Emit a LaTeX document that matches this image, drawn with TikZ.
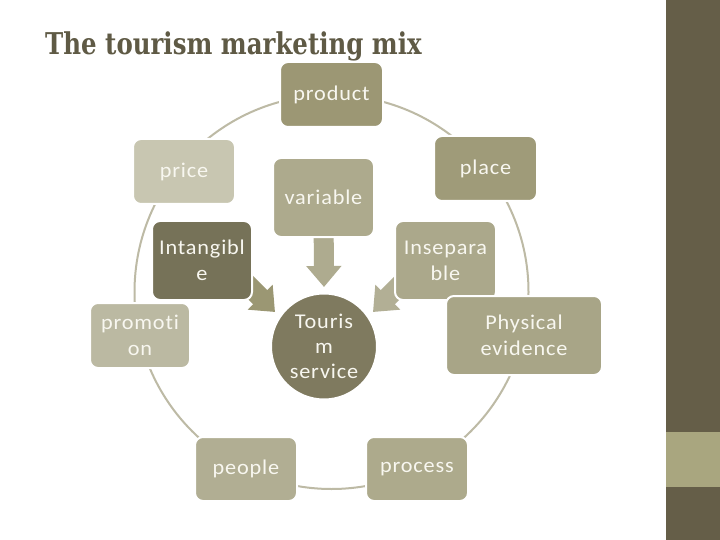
\documentclass[tikz,border=0pt]{standalone}
\usepackage{fontspec}
\usetikzlibrary{arrows.meta,calc}
\newfontfamily\boxfont{Carlito}[FakeStretch=1.06, LetterSpace=4, Ligatures=NoCommon]
\newfontfamily\titlefont{DejaVu Serif}[FakeStretch=0.815]
\definecolor{titlecol}{HTML}{5F5A45}
\definecolor{banddark}{HTML}{655E48}
\definecolor{bandlight}{HTML}{A9A67F}
\definecolor{ringcol}{HTML}{BDBAA5}
\definecolor{txtcol}{HTML}{F8F7F0}
\definecolor{cproduct}{HTML}{9C9774}
\definecolor{cprice}{HTML}{C8C6B1}
\definecolor{cplace}{HTML}{9F9B79}
\definecolor{cvariable}{HTML}{ADAA8D}
\definecolor{cintang}{HTML}{767258}
\definecolor{cinsep}{HTML}{ABA88B}
\definecolor{cpromo}{HTML}{BBB9A2}
\definecolor{csvc}{HTML}{7F7A5F}
\definecolor{cphys}{HTML}{A8A587}
\definecolor{cpeople}{HTML}{B1AE93}
\definecolor{cprocess}{HTML}{ADAA8C}
\definecolor{cdown}{HTML}{AEAB8F}
\definecolor{cleft}{HTML}{9B9773}
\definecolor{cright}{HTML}{B2AF95}
\tikzset{
  box/.style={rectangle, rounded corners=8pt, draw=white, line width=2pt,
    inner sep=0pt, text=txtcol, align=center,
    font=\boxfont\fontsize{21}{26}\selectfont},
  roundnode/.style={circle, draw=white, line width=2pt, inner sep=0pt,
    minimum size=106pt, text=txtcol, align=center,
    font=\boxfont\fontsize{21}{25}\selectfont},
  blockarr/.style={line width=20pt,
    -{Triangle[length=21pt 0 0, width=34pt 0 0]}},
  ring/.style={draw=ringcol, line width=2pt}
}
\begin{document}
\begin{tikzpicture}[x=1pt,y=-1pt]
\useasboundingbox (0,0) rectangle (720,540);
\fill[white] (0,0) rectangle (720,540);
% side band
\fill[banddark] (666,0) rectangle (720,540);
\fill[bandlight] (666,432) rectangle (720,487);
% title
\node[anchor=base west, inner sep=0pt, text=titlecol,
  font=\titlefont\bfseries\fontsize{30}{34}\selectfont] (title) at (45,55)
  {The tourism marketing mix};
% ring
\coordinate (ringc) at (331.5,292);
\draw[ring] (ringc) circle[radius=197];
% arrows (drawn beneath the boxes)
\coordinate (downtip) at (324,287);
\coordinate (lsrc) at (225,262);
\coordinate (ltip) at (275,312);
\coordinate (rsrc) at (423,262);
\coordinate (rtip) at (373,312);
\draw[blockarr, color=cdown] (323.5,200) -- (downtip);
\draw[blockarr, color=cleft] (lsrc) -- (ltip);
\draw[blockarr, color=cright] (rsrc) -- (rtip);
% nodes
\node[box, fill=cproduct, minimum width=103pt, minimum height=65pt] (product) at (331.5,94.5) {product};
\node[box, fill=cprice, minimum width=102pt, minimum height=65pt] (price) at (184,171.5) {price};
\node[box, fill=cplace, minimum width=103pt, minimum height=65pt] (place) at (485.5,168.5) {place};
\node[box, fill=cvariable, minimum width=101pt, minimum height=79pt] (variable) at (323.5,197.5) {variable};
\node[box, fill=cintang, minimum width=100pt, minimum height=79pt] (intang) at (202,260.5) {Intangibl\\e};
\node[box, fill=cinsep, minimum width=101pt, minimum height=79pt] (insep) at (445.5,260.5) {Insepara\\ble};
\node[box, fill=cpromo, minimum width=100pt, minimum height=65pt] (promo) at (140,335.5) {promoti\\on};
\node[roundnode, fill=csvc] (svc) at (324,346.5) {Touris\\m\\service};
\node[box, fill=cphys, minimum width=156pt, minimum height=79pt] (phys) at (524,335.5) {Physical\\evidence};
\node[box, fill=cpeople, minimum width=102pt, minimum height=64pt] (people) at (246,469) {people};
\node[box, fill=cprocess, minimum width=102pt, minimum height=64pt] (process) at (417,469) {process};
\end{tikzpicture}
\end{document}
